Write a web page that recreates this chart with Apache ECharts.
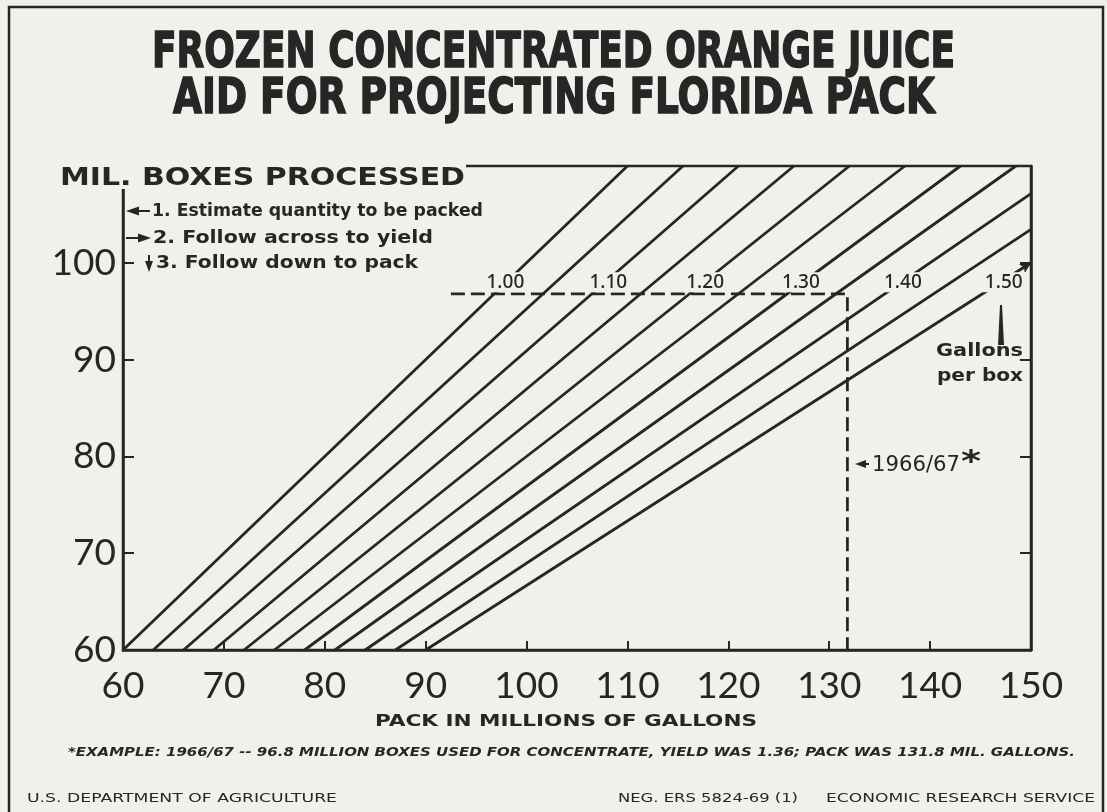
<!DOCTYPE html>
<html>
<head>
<meta charset="utf-8">
<script src="https://cdn.jsdelivr.net/npm/echarts@6/dist/echarts.min.js"></script>
<style>
html,body{margin:0;padding:0;background:#f2f0eb;}
#c{width:1107px;height:812px;}
</style>
</head>
<body>
<div id="c"></div>
<script>
// ---- data ----
const xTicks = [60, 70, 80, 90, 100, 110, 120, 130, 140, 150];
const yTicks = [60, 70, 80, 90, 100, 110];
const yields = [1.00, 1.05, 1.10, 1.15, 1.20, 1.25, 1.30, 1.35, 1.40, 1.45, 1.50];
// endpoints of each yield line: [pack, boxes]
const lineStart = [[60,60],[63,60],[66,60],[69,60],[72,60],[75,60],[78,60],[81,60],[84,60],[87,60],[90,60]];
const lineEnd = [[110,110],[115.5,110],[121,110],[126.5,110],[132,110],[137.5,110],[143,110],[148.5,110],[150,107.14],[150,103.45],[150,100]];
const yieldLabels = ['1.00','1.10','1.20','1.30','1.40','1.50'];
const yieldLabelX = [97.9, 108.1, 117.7, 127.2, 137.3, 147.3];
const yieldLabelY = 98.0;
const exampleBoxes = 96.8;
const examplePack = 131.8;
const exampleLineStart = 92.5;

const bg = '#f2f0eb';
const ink = '#262626';

function measure(text, font) {
  const c = document.createElement('canvas').getContext('2d');
  c.font = font;
  return c.measureText(text).width;
}
function fitText(text, font, left, width, cy, extraStyle) {
  const w = measure(text, font);
  return {
    type: 'text', x: left, y: cy, scaleX: width / w, z: 100,
    style: Object.assign({ text: text, font: font, fill: ink, textAlign: 'left', textVerticalAlign: 'middle' }, extraStyle || {})
  };
}

const chart = echarts.init(document.getElementById('c'), null, { renderer: 'canvas' });

const series = [];
yields.forEach(function (y, i) {
  const data = [lineStart[i], lineEnd[i]];
  if (i === yields.length - 1) {
    data[1] = { value: lineEnd[i], symbol: 'arrow', symbolSize: [8, 11], symbolRotate: -57, itemStyle: { color: ink } };
  }
  series.push({
    type: 'line', name: String(y), data: data, z: 2,
    showSymbol: true, symbol: 'none',
    lineStyle: { color: ink, width: 2.8 }, silent: true
  });
});
series.push({
  type: 'line', name: 'example', z: 3, symbol: 'none',
  data: [[exampleLineStart, exampleBoxes], [examplePack, exampleBoxes], [examplePack, 60]],
  lineStyle: { color: ink, width: 2.8, type: [14, 6] }
});
series.push({
  type: 'scatter', name: 'labels', z: 6, symbolSize: 1,
  itemStyle: { opacity: 0 },
  data: yieldLabels.map(function (t, i) { return { value: [yieldLabelX[i], yieldLabelY], name: t }; }),
  label: {
    show: true, position: 'inside', formatter: '{b}', color: ink, opacity: 1,
    fontFamily: 'Noto Sans', fontWeight: 500, fontSize: 19, backgroundColor: bg, padding: [0, 4, 0, 4], lineHeight: 20
  }
});

const font = '"DejaVu Sans"';
const heavy = { stroke: ink, lineWidth: 1.6 };
const graphics = [
  // outer frame
  { type: 'polyline', z: 50, shape: { points: [[9, 830], [9, 7], [1103, 7], [1103, 830]] }, style: { stroke: ink, lineWidth: 2.5, fill: null } },
  // title
  fitText('FROZEN CONCENTRATED ORANGE JUICE', 'bold 50px ' + font, 152, 803, 54, heavy),
  fitText('AID FOR PROJECTING FLORIDA PACK', 'bold 50px ' + font, 173, 762, 100, heavy),
  // axis title box (masks top-left of frame)
  { type: 'rect', z: 90, shape: { x: 40, y: 150, width: 426, height: 39 }, style: { fill: bg } },
  fitText('MIL. BOXES PROCESSED', 'bold 25px ' + font, 60, 405, 178),
  // instructions
  fitText('1. Estimate quantity to be packed', 'bold 18px ' + font, 152, 331, 211),
  fitText('2. Follow across to yield', 'bold 18px ' + font, 153, 280, 238),
  fitText('3. Follow down to pack', 'bold 18px ' + font, 156, 262, 263),
  // arrows
  { type: 'polygon', z: 100, shape: { points: [[126, 211], [139, 206.5], [139, 215.5]] }, style: { fill: ink } },
  { type: 'line', z: 100, shape: { x1: 138, y1: 211, x2: 150, y2: 211 }, style: { stroke: ink, lineWidth: 2 } },
  { type: 'polygon', z: 100, shape: { points: [[151, 238], [138, 233.5], [138, 242.5]] }, style: { fill: ink } },
  { type: 'line', z: 100, shape: { x1: 126, y1: 238, x2: 139, y2: 238 }, style: { stroke: ink, lineWidth: 2 } },
  { type: 'polygon', z: 100, shape: { points: [[149, 272], [145, 261], [153, 261]] }, style: { fill: ink } },
  { type: 'line', z: 100, shape: { x1: 149, y1: 255, x2: 149, y2: 262 }, style: { stroke: ink, lineWidth: 2 } },
  // gallons per box
  { type: 'polygon', z: 100, shape: { points: [[1000, 305], [1002, 305], [1004, 345], [998, 345]] }, style: { fill: ink } },
  fitText('Gallons', 'bold 18px ' + font, 936, 87, 351),
  fitText('per box', 'bold 18px ' + font, 937, 86, 376),
  // 1966/67 marker
  { type: 'polygon', z: 100, shape: { points: [[855, 464], [866, 460], [866, 468]] }, style: { fill: ink } },
  { type: 'line', z: 100, shape: { x1: 864, y1: 464, x2: 869, y2: 464 }, style: { stroke: ink, lineWidth: 2 } },
  fitText('1966/67', '21px ' + font, 872, 88, 466),
  fitText('*', 'bold 30px ' + font, 961, 20, 463),
  // axis name
  fitText('PACK IN MILLIONS OF GALLONS', 'bold 16px ' + font, 375, 382, 722),
  // footnote
  fitText('*EXAMPLE: 1966/67 -- 96.8 MILLION BOXES USED FOR CONCENTRATE, YIELD WAS 1.36; PACK WAS 131.8 MIL. GALLONS.', 'italic bold 13px ' + font, 68, 1007, 753),
  // footer
  fitText('U.S. DEPARTMENT OF AGRICULTURE', '12px ' + font, 27, 310, 799),
  fitText('NEG. ERS 5824-69 (1)', '12px ' + font, 618, 180, 799),
  fitText('ECONOMIC RESEARCH SERVICE', '12px ' + font, 826, 269, 799)
];

chart.setOption({
  animation: false,
  backgroundColor: bg,
  grid: { left: 123, right: 76, top: 166, bottom: 162, show: true, borderColor: ink, borderWidth: 2.5, backgroundColor: 'transparent' },
  xAxis: {
    type: 'value', min: xTicks[0], max: xTicks[xTicks.length - 1], interval: 10,
    axisLine: { show: true, lineStyle: { color: ink, width: 2.5 } },
    axisTick: { show: true, inside: true, length: 9, lineStyle: { color: ink, width: 2 } },
    splitLine: { show: false },
    axisLabel: { color: ink, fontFamily: 'Lato', fontSize: 37, margin: 18, formatter: function (v) { return String(v); } }
  },
  yAxis: [{
    type: 'value', min: yTicks[0], max: yTicks[yTicks.length - 1], interval: 10,
    axisLine: { show: true, lineStyle: { color: ink, width: 2.5 } },
    axisTick: { show: true, inside: true, length: 11, lineStyle: { color: ink, width: 2 } },
    splitLine: { show: false },
    axisLabel: { color: ink, fontFamily: 'Lato', fontSize: 37, margin: 7,
      formatter: function (v) { return v === 110 ? '' : String(v); } }
  }, {
    type: 'value', min: yTicks[0], max: yTicks[yTicks.length - 1], interval: 10, position: 'right',
    axisLine: { show: true, lineStyle: { color: ink, width: 2.5 } },
    axisTick: { show: true, inside: true, length: 11, lineStyle: { color: ink, width: 2 } },
    splitLine: { show: false }, axisLabel: { show: false }
  }],
  series: series,
  graphic: graphics
});
</script>
</body>
</html>
